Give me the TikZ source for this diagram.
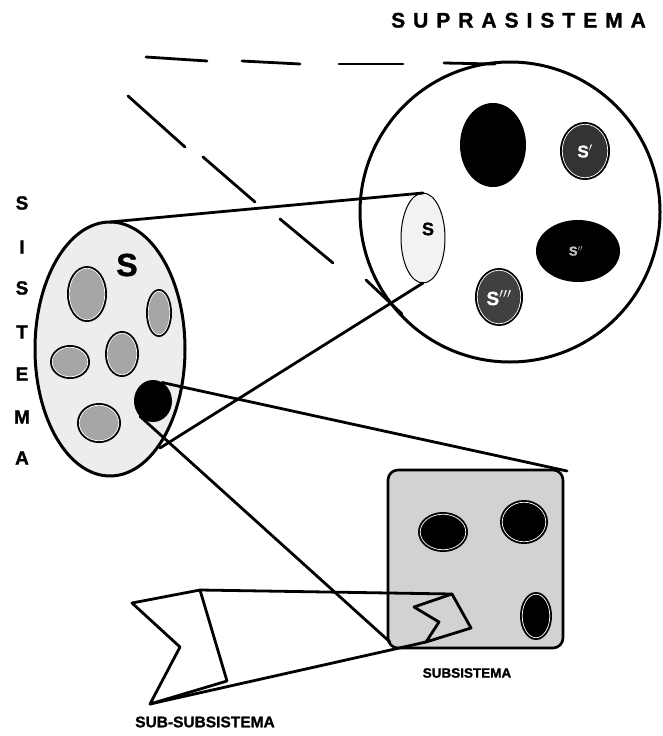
\documentclass[tikz,border=0pt]{standalone}
\usepackage{fontspec}
\setmainfont{Liberation Sans}[BoldFont={Liberation Sans Bold},BoldFeatures={FakeBold=1.3}]
\usetikzlibrary{shapes.geometric}
\newcommand\myblob[7]{%
  \node[ell,fill=black,minimum width=#4,minimum height=#5] (#1) at (#2,#3) {};
  \node[ell,fill=#6,draw=white,line width=0.7pt,minimum width=#4-4.5,minimum height=#5-4.5] (#1i) at (#2,#3) {#7};}
\begin{document}
\begin{tikzpicture}[x=1pt,y=-1pt,
  ln/.style={line width=2.8pt,line cap=round,line join=round},
  dsh/.style={line width=2.8pt,line cap=round},
  ell/.style={ellipse,inner sep=0pt,outer sep=0pt},
  lbl/.style={font=\fontsize{#1}{#1}\selectfont\bfseries,inner sep=0pt},
  wl/.style={text=white,font=\fontsize{#1}{#1}\selectfont\bfseries,inner sep=0pt}]
\useasboundingbox (0,0) rectangle (662,736);

% title
\node[anchor=base west,font=\fontsize{21}{21}\selectfont\bfseries\addfontfeature{LetterSpace=38},inner sep=0pt] (title) at (391,27.5) {SUPRASISTEMA};

% vertical SISTEMA
\foreach \ch/\yy [count=\i] in {S/203,I/247,S/288,T/332,E/374,M/417,A/458}
  \node[lbl=19] (v\i) at (22,\yy) {\ch};

% dashed horizontal
\draw[dsh] (146,57) -- (207,61);
\draw[dsh] (242,61) -- (300,64);
\draw[dsh] (339,64) -- (403,64);
\draw[dsh] (444,63) -- (495,64);
% dashed diagonal
\draw[dsh] (128,96) -- (185,147);
\draw[dsh] (203,157) -- (255,202);
\draw[dsh] (280,219) -- (333,263);
\draw[dsh] (366,280) -- (402,314);

% suprasistema circle
\node[circle,draw,line width=3pt,minimum size=300,inner sep=0pt] (sup) at (510,212) {};
\node[ell,fill=black,minimum width=66,minimum height=84] (k1) at (493,145) {};
\myblob{s1}{585}{151}{50}{58}{black!80}{}
\node[wl=17] (s1t) at (585,151) {S$'$};
\node[ell,fill=black,minimum width=84,minimum height=62] (k2) at (578,251) {};
\node[wl=13,text=white!75!black] (k2t) at (576,251) {S$''$};
\myblob{s3}{499}{297}{48}{58}{black!75}{}
\node[wl=19] (s3t) at (499,298) {S$'''$};
\node[ell,draw,fill=gray!10,line width=1pt,minimum width=44,minimum height=90] (sS) at (423,238) {};
\node[lbl=18] (sSt) at (428,229) {S};

% sistema ellipse
\node[ell,draw,fill=gray!14,line width=3pt,minimum width=150,minimum height=254] (sys) at (110,349) {};
\node[lbl=32] (sysS) at (127,265) {S};
\myblob{e1}{87}{294}{40}{56}{gray!70}{}
\myblob{e2}{159}{313}{26}{48}{gray!70}{}
\myblob{e3}{70}{362}{40}{34}{gray!70}{}
\myblob{e4}{122}{354}{34}{46}{gray!70}{}
\myblob{e6}{99}{423}{44}{40}{gray!70}{}
\node[ell,fill=black,minimum width=38,minimum height=42] (bc) at (153,401) {};

% cylinder lines
\coordinate (cb) at (160,448);
\draw[ln] (sys.north) -- (sS.north);
\draw[ln] (sS.south) -- (cb);

% subsystem box
\node[draw,rounded corners=10pt,fill=gray!35,line width=2.6pt,minimum width=175,minimum height=178,inner sep=0pt] (box) at (475.5,559) {};
\myblob{b1}{443}{532}{50}{40}{black}{}
\myblob{b2}{524}{522}{48}{44}{black}{}
\myblob{b3}{536}{616}{32}{48}{black}{}

% lines from black subsystem
\coordinate (bt) at (567,471);
\coordinate (bb) at (390,642);
\draw[ln] (bc.64) -- (bt);
\draw[ln] (bc.-130) -- (bb);

% sub-subsystem flag
\coordinate (f1) at (132,603);
\coordinate (f2) at (200,590);
\coordinate (f3) at (227,681);
\coordinate (f4) at (150,704);
\coordinate (f5) at (180,647);
\coordinate (z1) at (414,607);
\coordinate (z2) at (452,594);
\coordinate (z3) at (471,628);
\coordinate (z4) at (426,642);
\coordinate (z5) at (439,622);
\draw[ln] (f1) -- (f2) -- (f3) -- (f4) -- (f5) -- cycle;
\draw[ln] (z1) -- (z2) -- (z3) -- (z4) -- (z5) -- cycle;
\draw[ln] (f2) -- (z2);
\draw[ln] (f4) -- (z4);

% labels
\node[lbl=13.5] (subt) at (467,673) {SUBSISTEMA};
\node[lbl=15.5] (subsubt) at (205,722) {SUB-SUBSISTEMA};
\end{tikzpicture}
\end{document}
